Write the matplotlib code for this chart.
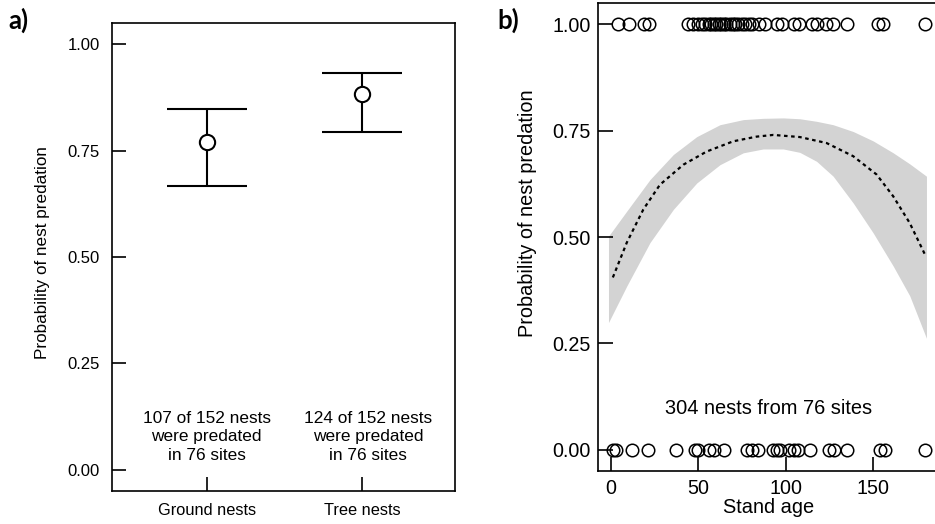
import numpy as np
import matplotlib
matplotlib.use('Agg')
import matplotlib.pyplot as plt

plt.rcParams['font.family'] = ['Liberation Sans', 'DejaVu Sans']

# panel a: predation probability by nest type
nest_types = ['Ground nests', 'Tree nests']
pred_mean = [0.770, 0.883]
pred_low = [0.667, 0.793]
pred_high = [0.847, 0.932]
notes_a = ['107 of 152 nests\nwere predated\nin 76 sites',
           '124 of 152 nests\nwere predated\nin 76 sites']

# panel b: fitted curve against stand age
age_fit = [1, 9, 18.5, 28, 41.4, 54.8, 70, 83.4, 93, 108.2, 123.5, 138.8, 152.2, 161.7, 171.2, 180.4]
p_fit = [0.405, 0.487, 0.565, 0.623, 0.670, 0.701, 0.725, 0.736, 0.740, 0.735, 0.721, 0.690,
         0.647, 0.596, 0.533, 0.455]
# confidence band
age_band = [-1.5, 9, 22.3, 35.7, 49.1, 62.4, 75.8, 87.2, 98.7, 108.2, 117.8, 127.3, 138.8,
            150.2, 161.7, 171.2, 180.8]
p_upper = [0.502, 0.561, 0.635, 0.694, 0.736, 0.764, 0.776, 0.779, 0.780, 0.778, 0.772, 0.764,
           0.748, 0.726, 0.698, 0.672, 0.643]
p_lower = [0.299, 0.385, 0.487, 0.565, 0.627, 0.670, 0.698, 0.707, 0.707, 0.699, 0.678, 0.643,
           0.580, 0.510, 0.432, 0.362, 0.262]

# observed nests (stand age of the site), predated = 1, not predated = 0
age_predated = [4, 10, 19, 22, 44, 47, 50, 52, 54, 56, 57, 59, 60, 62, 63, 65, 66, 68, 70,
                71, 73, 75, 77, 79, 81, 85, 88, 95, 98, 105, 108, 115, 118, 123, 127, 135,
                153, 156, 180]
age_survived = [1, 3, 12, 21, 37, 48, 50, 56, 59, 65, 78, 81, 84, 93, 95, 97, 102, 105, 107,
                114, 125, 128, 135, 154, 157, 180]
note_b = '304 nests from 76 sites'

fig = plt.figure(figsize=(9.35, 5.24), dpi=100)

# ---- a)
ax1 = fig.add_axes([0.1198, 0.063, 0.3668, 0.893])
xpos = np.arange(1, len(nest_types) + 1)
yerr = [np.array(pred_mean) - np.array(pred_low), np.array(pred_high) - np.array(pred_mean)]
ax1.errorbar(xpos, pred_mean, yerr=yerr, fmt='o', color='black', ecolor='black',
             elinewidth=1.5, capsize=28.5, capthick=1.5, markersize=11,
             markerfacecolor='white', markeredgecolor='black', markeredgewidth=1.5, zorder=3)
for x, t in zip([1, 2.04], notes_a):
    ax1.text(x, 0.077, t, ha='center', va='center', fontsize=12.4, linespacing=1.3)
ax1.set_xlim(0.39, 2.6)
ax1.set_ylim(-0.05, 1.05)
ax1.set_xticks(xpos)
ax1.set_xticklabels(nest_types)
ax1.set_yticks([0, 0.25, 0.5, 0.75, 1.0])
ax1.set_yticklabels(['0.00', '0.25', '0.50', '0.75', '1.00'])
ax1.tick_params(axis='y', direction='in', length=10, width=1.2, pad=9, labelsize=12)
ax1.tick_params(axis='x', direction='in', length=10, width=1.2, pad=9, labelsize=11.8)
ax1.set_ylabel('Probability of nest predation', fontsize=12.3)
ax1.yaxis.set_label_coords(-0.181, 0.51)
for s in ax1.spines.values():
    s.set_linewidth(1.2)

# ---- b)
ax2 = fig.add_axes([0.6396, 0.1011, 0.3647, 0.8931])
ax2.fill_between(age_band, p_lower, p_upper, color='#d3d3d3', linewidth=0, zorder=1)
ax2.plot(age_fit, p_fit, color='black', linestyle=(0, (1.6, 1.6)), linewidth=1.6, zorder=2)
ax2.plot(age_predated, np.ones(len(age_predated)), 'o', markersize=9, markerfacecolor='none',
         markeredgecolor='black', markeredgewidth=1.1, zorder=3, clip_on=False)
ax2.plot(age_survived, np.zeros(len(age_survived)), 'o', markersize=9, markerfacecolor='none',
         markeredgecolor='black', markeredgewidth=1.1, zorder=3, clip_on=False)
ax2.text(90, 0.098, note_b, ha='center', va='center', fontsize=14.4)
ax2.set_xlim(-7.5, 188)
ax2.set_ylim(-0.05, 1.05)
ax2.set_xticks([0, 50, 100, 150])
ax2.set_yticks([0, 0.25, 0.5, 0.75, 1.0])
ax2.set_yticklabels(['0.00', '0.25', '0.50', '0.75', '1.00'])
ax2.tick_params(axis='y', direction='in', length=11, width=1.2, pad=5, labelsize=14.2)
ax2.tick_params(axis='x', direction='in', length=10, width=1.2, pad=6, labelsize=14.2)
ax2.set_xlabel('Stand age', fontsize=14.4, labelpad=0)
ax2.set_ylabel('Probability of nest predation', fontsize=14.3)
ax2.yaxis.set_label_coords(-0.178, 0.551)
for s in ax2.spines.values():
    s.set_linewidth(1.2)

fig.text(8 / 935, 1 - 29 / 524, 'a)', ha='left', va='baseline', fontsize=18.5, fontweight='bold',
         family=['Lato', 'DejaVu Sans'])
fig.text(497 / 935, 1 - 29 / 524, 'b)', ha='left', va='baseline', fontsize=18.5, fontweight='bold',
         family=['Lato', 'DejaVu Sans'])

fig.savefig('out.png', dpi=100)
